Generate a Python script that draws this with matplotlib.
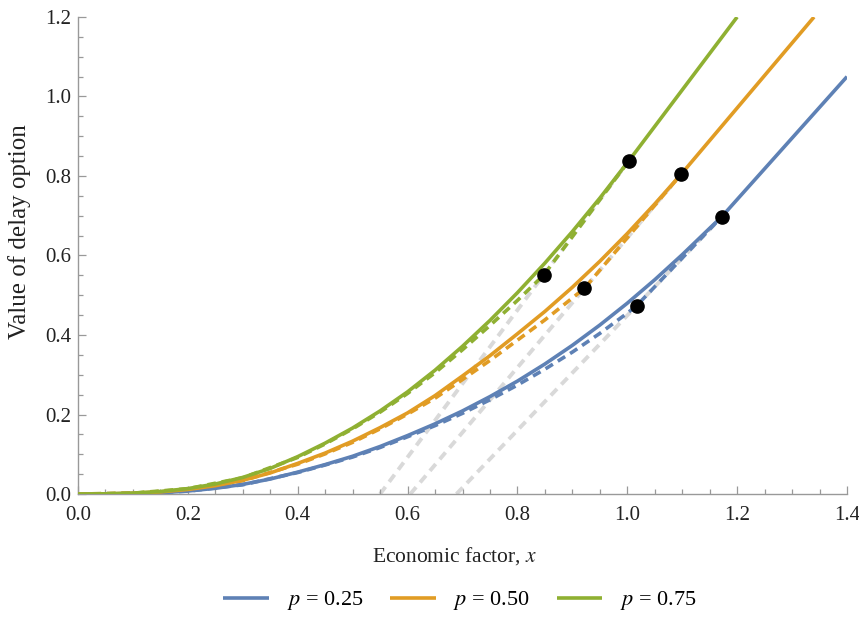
import matplotlib
matplotlib.use('Agg')
from matplotlib import pyplot as plt
from matplotlib.ticker import MultipleLocator

plt.rcParams['font.family'] = ['Liberation Serif', 'DejaVu Serif']
plt.rcParams['mathtext.fontset'] = 'stix'

labels = ['$p$ = 0.25', '$p$ = 0.50', '$p$ = 0.75']
colors = ['#5E81B5', '#E19C24', '#8FB032']

# solid curves: value of delay option
x_blue = [0, 0.05, 0.1, 0.15, 0.2, 0.25, 0.3, 0.35, 0.4, 0.45, 0.5, 0.55, 0.6, 0.65, 0.7,
          0.75, 0.8, 0.85, 0.9, 0.95, 1.0, 1.05, 1.1, 1.15, 1.172, 1.4]
y_blue = [0, 0.0002, 0.0012, 0.0033, 0.0075, 0.0143, 0.0242, 0.0377, 0.055, 0.074, 0.095,
          0.1195, 0.147, 0.1765, 0.209, 0.245, 0.284, 0.327, 0.374, 0.425, 0.480, 0.539,
          0.602, 0.6685, 0.6976, 1.05]
x_orange = [0, 0.05, 0.1, 0.15, 0.2, 0.25, 0.3, 0.35, 0.4, 0.45, 0.5, 0.55, 0.6, 0.65, 0.7,
            0.75, 0.8, 0.85, 0.9, 0.95, 1.0, 1.05, 1.098, 1.34]
y_orange = [0, 0.0004, 0.0019, 0.0053, 0.0114, 0.0209, 0.0345, 0.053, 0.077, 0.103, 0.133,
            0.167, 0.204, 0.2475, 0.297, 0.348, 0.403, 0.4593, 0.5201, 0.5854, 0.6552,
            0.7296, 0.8043, 1.2]
x_green = [0, 0.05, 0.1, 0.15, 0.2, 0.25, 0.3, 0.35, 0.4, 0.45, 0.5, 0.55, 0.6, 0.65, 0.7,
           0.75, 0.8, 0.85, 0.9, 0.95, 1.003, 1.2]
y_green = [0, 0.0004, 0.0022, 0.0063, 0.0136, 0.0251, 0.0417, 0.0644, 0.094, 0.128, 0.166,
           0.209, 0.257, 0.3114, 0.3716, 0.4366, 0.5064, 0.5809, 0.6602, 0.7443, 0.8385, 1.2]

# dashed curves: approximation
xd_blue = [0, 0.1, 0.2, 0.3, 0.4, 0.45, 0.5, 0.55, 0.6, 0.65, 0.7, 0.75, 0.8, 0.85, 0.9,
           0.95, 1.0, 1.017, 1.172]
yd_blue = [0, 0.0011, 0.0071, 0.0232, 0.054, 0.073, 0.093, 0.117, 0.144, 0.172, 0.203,
           0.237, 0.274, 0.314, 0.357, 0.404, 0.455, 0.4737, 0.6976]
xd_orange = [0, 0.1, 0.2, 0.3, 0.4, 0.45, 0.5, 0.55, 0.6, 0.65, 0.7, 0.75, 0.8, 0.85, 0.9,
             0.922, 1.098]
yd_orange = [0, 0.0018, 0.011, 0.0335, 0.075, 0.101, 0.130, 0.164, 0.201, 0.241, 0.288,
             0.336, 0.387, 0.438, 0.493, 0.5174, 0.8043]
xd_green = [0, 0.1, 0.2, 0.3, 0.4, 0.45, 0.5, 0.55, 0.6, 0.65, 0.7, 0.75, 0.8, 0.848, 1.003]
yd_green = [0, 0.0021, 0.0133, 0.0408, 0.092, 0.126, 0.164, 0.206, 0.253, 0.305, 0.363,
            0.424, 0.487, 0.551, 0.8385]

x_solid = [x_blue, x_orange, x_green]
y_solid = [y_blue, y_orange, y_green]
x_dash = [xd_blue, xd_orange, xd_green]
y_dash = [yd_blue, yd_orange, yd_green]

# gray tangent lines start on the axis and run to the upper dots
gray_x0 = [0.689, 0.605, 0.55]

# dots
upper_x = [1.172, 1.098, 1.003]
upper_y = [0.6976, 0.8043, 0.8385]
lower_x = [1.017, 0.922, 0.848]
lower_y = [0.4737, 0.5174, 0.551]

fig = plt.figure(figsize=(8.59, 6.33), dpi=100)
ax = fig.add_axes([78 / 859, 1 - 494 / 633, 769 / 859, 477 / 633])

for i in range(3):
    ax.plot([gray_x0[i], upper_x[i]], [0, upper_y[i]], color='#D9D9D9', lw=2.8,
            dashes=(2.3, 1.6), zorder=1)
for i in range(3):
    ax.plot(x_dash[i], y_dash[i], color=colors[i], lw=2.6, dashes=(2.4, 1.6), zorder=2)
for i in range(3):
    ax.plot(x_solid[i], y_solid[i], color=colors[i], lw=2.6, label=labels[i], zorder=3,
            solid_capstyle='butt')
ax.plot(upper_x + lower_x, upper_y + lower_y, 'o', color='black', ms=9.5, zorder=4)

ax.set_xlim(0, 1.4)
ax.set_ylim(0, 1.2)
ax.xaxis.set_major_locator(MultipleLocator(0.2))
ax.xaxis.set_minor_locator(MultipleLocator(0.05))
ax.yaxis.set_major_locator(MultipleLocator(0.2))
ax.yaxis.set_minor_locator(MultipleLocator(0.05))
ax.set_xticklabels(['%.1f' % v for v in ax.get_xticks()])
ax.set_yticklabels(['%.1f' % v for v in ax.get_yticks()])
ax.tick_params(which='both', direction='in', color='#999999', labelsize=15,
               labelcolor='#222222', width=0.9)
ax.tick_params(which='major', length=6)
ax.tick_params(which='minor', length=3.5)
ax.tick_params(axis='x', pad=9)
ax.tick_params(axis='y', pad=5)
for s in ['top', 'right']:
    ax.spines[s].set_visible(False)
for s in ['left', 'bottom']:
    ax.spines[s].set_color('#999999')
    ax.spines[s].set_linewidth(1.0)

ax.set_xlabel('Economic factor, $x$', fontsize=15.5, color='#222222')
ax.set_ylabel('Value of delay option', fontsize=18, color='#222222')
ax.xaxis.set_label_coords(455 / 859 * 859 / 769 - 78 / 769, -62 / 477)
ax.yaxis.set_label_coords(-58 / 769, 262 / 477)
ax.xaxis.label.set_va('center')
ax.yaxis.label.set_va('center')

fig.legend(loc='center', bbox_to_anchor=(460 / 859, 1 - 601 / 633), ncol=3, frameon=False,
           fontsize=16, handlelength=2.05, handletextpad=0.8, columnspacing=1.2)

fig.savefig('out.png', dpi=100)
